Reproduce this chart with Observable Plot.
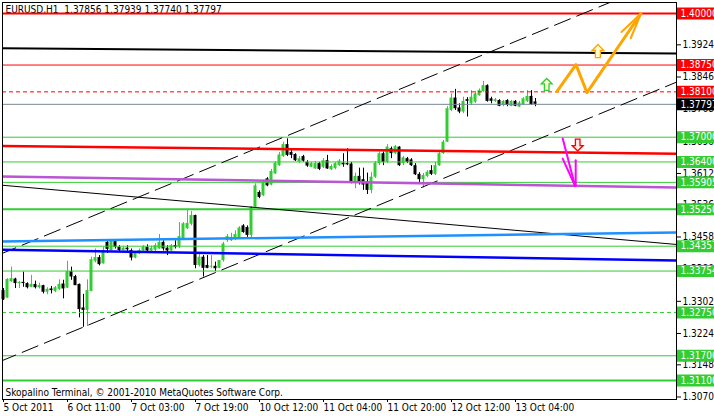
<!DOCTYPE html>
<html><head><meta charset="utf-8">
<script src="https://cdn.jsdelivr.net/npm/d3@7"></script>
<script src="https://cdn.jsdelivr.net/npm/@observablehq/plot@0.6"></script>
<style>body{margin:0;background:#fff} #chart svg{display:block}</style>
</head><body><div id="chart"></div>
<script>
// ---- EURUSD H1 candles (bar index 0 = 5 Oct 2011 19:00) ----
const open = [
1.3328,1.3310,1.3350,1.3356,1.3345,1.3348,1.3345,1.3336,1.3343,1.3335,
1.3340,1.3324,1.3332,1.3326,1.3331,1.3344,1.3334,1.3374,1.3362,1.3343,
1.3286,1.3280,1.3326,1.3399,1.3408,1.3393,1.3445,1.3425,1.3448,1.3433,
1.3425,1.3431,1.3425,1.3407,1.3417,1.3424,1.3433,1.3424,1.3426,1.3429,
1.3445,1.3431,1.3424,1.3437,1.3434,1.3454,1.3478,1.3489,1.3510,1.3389,
1.3409,1.3389,1.3385,1.3387,1.3382,1.3401,1.3449,1.3449,1.3454,1.3454,
1.3485,1.3481,1.3462,1.3530,1.3566,1.3558,1.3599,1.3584,1.3611,1.3631,
1.3653,1.3682,1.3663,1.3658,1.3639,1.3653,1.3639,1.3627,1.3623,1.3636,
1.3627,1.3643,1.3621,1.3624,1.3631,1.3637,1.3636,1.3635,1.3588,1.3605,
1.3597,1.3592,1.3571,1.3603,1.3636,1.3660,1.3639,1.3672,1.3660,1.3676,
1.3636,1.3648,1.3645,1.3631,1.3610,1.3597,1.3605,1.3619,1.3610,1.3631,
1.3660,1.3688,1.3765,1.3795,1.3771,1.3761,1.3791,1.3781,1.3785,1.3801,
1.3811,1.3825,1.3793,1.3787,1.3789,1.3777,1.3789,1.3775,1.3787,1.3773,
1.3779,1.3787,1.3799,1.37856];
const high = [
1.3333,1.3357,1.3385,1.3358,1.3350,1.3373,1.3347,1.3365,1.3351,1.3346,
1.3341,1.3335,1.3338,1.3338,1.3354,1.3353,1.3399,1.3385,1.3365,1.3344,
1.3319,1.3354,1.3409,1.3429,1.3413,1.3433,1.3449,1.3449,1.3449,1.3437,
1.3434,1.3437,1.3429,1.3421,1.3429,1.3437,1.3439,1.3436,1.3442,1.3464,
1.3449,1.3437,1.3440,1.3449,1.3493,1.3493,1.3522,1.3520,1.3511,1.3417,
1.3413,1.3413,1.3413,1.3397,1.3401,1.3445,1.3464,1.3467,1.3473,1.3483,
1.3488,1.3485,1.3532,1.3587,1.3570,1.3595,1.3602,1.3622,1.3641,1.3663,
1.3688,1.3696,1.3670,1.3660,1.3653,1.3656,1.3643,1.3639,1.3641,1.3639,
1.3648,1.3656,1.3633,1.3639,1.3646,1.3660,1.3672,1.3639,1.3613,1.3625,
1.3625,1.3613,1.3614,1.3641,1.3664,1.3664,1.3682,1.3676,1.3680,1.3677,
1.3653,1.3651,1.3648,1.3636,1.3614,1.3612,1.3619,1.3631,1.3639,1.3663,
1.3692,1.3774,1.3805,1.3816,1.3781,1.3797,1.3796,1.3813,1.3811,1.3817,
1.3835,1.3827,1.3797,1.3794,1.3791,1.3789,1.3791,1.3789,1.3789,1.3787,
1.3796,1.3813,1.3813,1.37939];
const low = [
1.3304,1.3309,1.3348,1.3333,1.3333,1.3336,1.3332,1.3335,1.3332,1.3332,
1.3320,1.3318,1.3320,1.3323,1.3328,1.3308,1.3333,1.3353,1.3340,1.3262,
1.3239,1.3241,1.3325,1.3395,1.3388,1.3392,1.3418,1.3424,1.3429,1.3421,
1.3424,1.3423,1.3400,1.3405,1.3415,1.3421,1.3421,1.3422,1.3423,1.3428,
1.3424,1.3413,1.3423,1.3429,1.3430,1.3452,1.3476,1.3485,1.3381,1.3385,
1.3361,1.3381,1.3381,1.3374,1.3381,1.3397,1.3445,1.3447,1.3449,1.3452,
1.3467,1.3457,1.3454,1.3527,1.3551,1.3556,1.3580,1.3582,1.3610,1.3629,
1.3651,1.3653,1.3648,1.3641,1.3636,1.3639,1.3627,1.3627,1.3622,1.3619,
1.3624,1.3622,1.3619,1.3621,1.3629,1.3627,1.3631,1.3587,1.3575,1.3584,
1.3571,1.3561,1.3563,1.3600,1.3631,1.3631,1.3636,1.3648,1.3658,1.3629,
1.3631,1.3636,1.3629,1.3607,1.3590,1.3577,1.3602,1.3607,1.3607,1.3629,
1.3658,1.3687,1.3762,1.3765,1.3757,1.3757,1.3749,1.3777,1.3782,1.3799,
1.3809,1.3785,1.3781,1.3784,1.3774,1.3774,1.3774,1.3774,1.3774,1.3772,
1.3777,1.3784,1.3777,1.37740];
const close = [
1.3306,1.3355,1.3357,1.3345,1.3348,1.3345,1.3335,1.3343,1.3335,1.3340,
1.3324,1.3331,1.3328,1.3335,1.3343,1.3332,1.3374,1.3361,1.3340,1.3282,
1.3280,1.3328,1.3403,1.3408,1.3391,1.3425,1.3428,1.3448,1.3433,1.3425,
1.3431,1.3427,1.3407,1.3419,1.3425,1.3434,1.3424,1.3430,1.3437,1.3445,
1.3429,1.3424,1.3437,1.3433,1.3459,1.3490,1.3491,1.3510,1.3389,1.3409,
1.3382,1.3382,1.3387,1.3381,1.3401,1.3441,1.3459,1.3457,1.3464,1.3480,
1.3469,1.3462,1.3530,1.3582,1.3554,1.3590,1.3582,1.3617,1.3637,1.3657,
1.3682,1.3656,1.3656,1.3643,1.3648,1.3642,1.3630,1.3636,1.3636,1.3622,
1.3643,1.3623,1.3629,1.3636,1.3642,1.3633,1.3633,1.3592,1.3605,1.3592,
1.3584,1.3571,1.3603,1.3637,1.3660,1.3639,1.3676,1.3660,1.3677,1.3631,
1.3650,1.3639,1.3631,1.3609,1.3597,1.3607,1.3615,1.3610,1.3631,1.3660,
1.3688,1.3769,1.3795,1.3769,1.3761,1.3787,1.3787,1.3797,1.3805,1.3813,
1.3825,1.3787,1.3787,1.3791,1.3775,1.3787,1.3777,1.3787,1.3775,1.3783,
1.3793,1.3799,1.3779,1.37797];

// ---- axes ----
const timeTickBars = [0, 16, 32, 48, 64, 80, 96, 112, 128];
const timeTickLabels = ["5 Oct 2011","6 Oct 11:00","7 Oct 03:00","7 Oct 19:00","10 Oct 12:00","11 Oct 04:00","11 Oct 20:00","12 Oct 12:00","13 Oct 04:00"];
const priceTicks = [1.3924, 1.3846, 1.3768, 1.3690, 1.3612, 1.3536, 1.3458, 1.3380, 1.3302, 1.3224, 1.3148, 1.3070];

// ---- horizontal levels ----
const redLevels = [1.40000, 1.38750];
const redDashedLevels = [1.38100];
const bidLevel = [1.37797];
const greenLevels = [1.37000, 1.36400, 1.35905, 1.34357, 1.33754, 1.31700];
const greenThickLevels = [1.35250, 1.31100];
const greenDashedLevels = [1.32750];
const redLabels = [1.40000, 1.38750, 1.38100];
const bidLabels = [1.37797];
const greenLabels = [1.37000, 1.36400, 1.35905, 1.35250, 1.34357, 1.33754, 1.32750, 1.31700, 1.31100];

// ---- trend lines [bar, price] ----
const blackTopLine = [[-0.875, 1.3916], [168.125, 1.3903]];
const redTrend = [[-0.875, 1.3679], [168.125, 1.3660]];
const purpleTrend = [[-0.875, 1.3605], [168.125, 1.3578]];
const blackThinTrend = [[-0.875, 1.3584], [168.125, 1.3440]];
const skyTrend = [[-0.875, 1.3447], [168.125, 1.3469]];
const blueTrend = [[-0.875, 1.3427], [168.125, 1.3401]];
const channelUpper = [[-0.875, 1.3416], [168.125, 1.4093]];
const channelLower = [[-0.875, 1.3156], [168.125, 1.3833]];

// ---- projections ----
const orangePath = [[138.375, 1.3811], [143.125, 1.3876], [145.875, 1.3808], [159.375, 1.4000]];
const orangeHeadA = [[159.375, 1.4000], [154.5, 1.3955]];
const orangeHeadB = [[159.375, 1.4000], [156.8, 1.3940]];
const magentaPath = [[139.8, 1.3697], [142.875, 1.3582]];
const magentaHeadA = [[142.875, 1.3582], [139.8, 1.3648]];
const magentaHeadB = [[143.05, 1.3582], [143.05, 1.3644]];
const upArrowsGreen = [[135.8, 1.3828]];
const upArrowsOrange = [[148.6, 1.3909]];
const downArrowsRed = [[143.55, 1.3681]];

const title = "EURUSD,H1  1.37856 1.37939 1.37740 1.37797";
const credit = "Skopalino Terminal, \u00a9 2001-2010 MetaQuotes Software Corp.";

// ---- build ----
const bars = open.map((o, i) => ({i, o, h: high[i], l: low[i], c: close[i]}));
const candleColor = d => d.c >= d.o ? "#32cd32" : "#000000";
const GREEN = "#32cd32", RED = "#ff0000";
const fmt = d3.format(".5f");

function arrowSymbol(dir) {
  const pts = [[0,-6],[5.5,-0.5],[2.3,-0.5],[2.3,6],[-2.3,6],[-2.3,-0.5],[-5.5,-0.5]];
  return {draw(ctx, size) {
    const s = Math.sqrt(size / Math.PI) / 6;
    pts.forEach((p, k) => { const x = p[0]*s, y = p[1]*s*dir; k ? ctx.lineTo(x, y) : ctx.moveTo(x, y); });
    ctx.closePath();
  }};
}
const upSym = arrowSymbol(1), downSym = arrowSymbol(-1);
const X = d => d[0], Y = d => d[1];
const lineOpts = (extra) => Object.assign({x: X, y: Y, clip: true}, extra);

const chart = Plot.plot({
  width: 714, height: 416,
  marginLeft: 2, marginRight: 38, marginTop: 2, marginBottom: 17,
  x: {domain: [-0.25, 168.25], label: null},
  y: {domain: [1.306392, 1.402668], label: null},
  color: {type: "identity"},
  style: {fontFamily: "'DejaVu Sans Condensed','DejaVu Sans',sans-serif", fontSize: "10px", background: "white", color: "black"},
  marks: [
    Plot.text([title], {frameAnchor: "top-left", text: d => d, dx: 3, dy: 3, fontSize: 10, fill: "black"}),
    Plot.text([credit], {frameAnchor: "bottom-left", text: d => d, dx: 3, dy: -4, fontSize: 10, fill: "black"}),
    // candles
    Plot.ruleX(bars, {x: "i", y1: "l", y2: "h", stroke: candleColor, strokeWidth: 1}),
    Plot.rect(bars, {x1: d => d.i - 0.375, x2: d => d.i + 0.375, y1: d => Math.min(d.o, d.c), y2: d => Math.max(d.o, d.c), fill: candleColor}),
    // levels
    Plot.ruleY(greenLevels, {y: d => d, stroke: GREEN, strokeWidth: 1}),
    Plot.ruleY(greenThickLevels, {y: d => d, stroke: GREEN, strokeWidth: 2}),
    Plot.ruleY(greenDashedLevels, {y: d => d, stroke: GREEN, strokeWidth: 1, strokeDasharray: "4,3"}),
    Plot.ruleY(bidLevel, {y: d => d, stroke: "#778899", strokeWidth: 1}),
    Plot.ruleY(redLevels.slice(0, 1), {y: d => d, stroke: RED, strokeWidth: 2}),
    Plot.ruleY(redLevels.slice(1), {y: d => d, stroke: RED, strokeWidth: 1}),
    Plot.ruleY(redDashedLevels, {y: d => d, stroke: RED, strokeWidth: 1, strokeDasharray: "4,3"}),
    // trend lines
    Plot.line(blackThinTrend, lineOpts({stroke: "black", strokeWidth: 1})),
    Plot.line(channelUpper, lineOpts({stroke: "black", strokeWidth: 1, strokeDasharray: "17,7"})),
    Plot.line(channelLower, lineOpts({stroke: "black", strokeWidth: 1, strokeDasharray: "17,7"})),
    Plot.line(blackTopLine, lineOpts({stroke: "black", strokeWidth: 2})),
    Plot.line(purpleTrend, lineOpts({stroke: "#ba55d3", strokeWidth: 2.5})),
    Plot.line(skyTrend, lineOpts({stroke: "#1e90ff", strokeWidth: 2.5})),
    Plot.line(blueTrend, lineOpts({stroke: "#0000ff", strokeWidth: 2.5})),
    Plot.line(redTrend, lineOpts({stroke: RED, strokeWidth: 2.5})),
    // projections
    Plot.line(orangePath, lineOpts({stroke: "#ffa500", strokeWidth: 3})),
    Plot.line(orangeHeadA, lineOpts({stroke: "#ffa500", strokeWidth: 2})),
    Plot.line(orangeHeadB, lineOpts({stroke: "#ffa500", strokeWidth: 2})),
    Plot.line(magentaPath, lineOpts({stroke: "#ff00ff", strokeWidth: 2})),
    Plot.line(magentaHeadA, lineOpts({stroke: "#ff00ff", strokeWidth: 2})),
    Plot.line(magentaHeadB, lineOpts({stroke: "#ff00ff", strokeWidth: 2})),
    Plot.dot(upArrowsGreen, {x: X, y: Y, symbol: upSym, r: 6, stroke: GREEN, fill: "#ffffd0", strokeWidth: 1.3}),
    Plot.dot(upArrowsOrange, {x: X, y: Y, symbol: upSym, r: 6.5, stroke: "#ffa500", fill: "#ffffd0", strokeWidth: 1.3}),
    Plot.dot(downArrowsRed, {x: X, y: Y, symbol: downSym, r: 6, stroke: RED, fill: "#ffe8e8", strokeWidth: 1.3}),
    Plot.frame({stroke: "black"}),
    // axes
    Plot.axisX({ticks: timeTickBars, tickFormat: d => timeTickLabels[timeTickBars.indexOf(d)], tickSize: 3, tickPadding: 1, textAnchor: "start", fontSize: 10, label: null}),
    Plot.axisY({anchor: "right", ticks: priceTicks, tickFormat: fmt, tickSize: 4, tickPadding: 2, fontSize: 10, label: null}),
    // price label boxes
    Plot.ruleY(redLabels, {y: d => d, x1: 168.5, x2: 200, stroke: RED, strokeWidth: 12}),
    Plot.ruleY(bidLabels, {y: d => d, x1: 168.5, x2: 200, stroke: "black", strokeWidth: 12}),
    Plot.ruleY(greenLabels, {y: d => d, x1: 168.5, x2: 200, stroke: GREEN, strokeWidth: 12}),
    Plot.text([...redLabels, ...bidLabels, ...greenLabels], {x: 168.5, y: d => d, text: fmt, dx: 3, textAnchor: "start", fill: "white", fontSize: 10})
  ]
});
document.getElementById("chart").append(chart);
</script>
</body></html>
